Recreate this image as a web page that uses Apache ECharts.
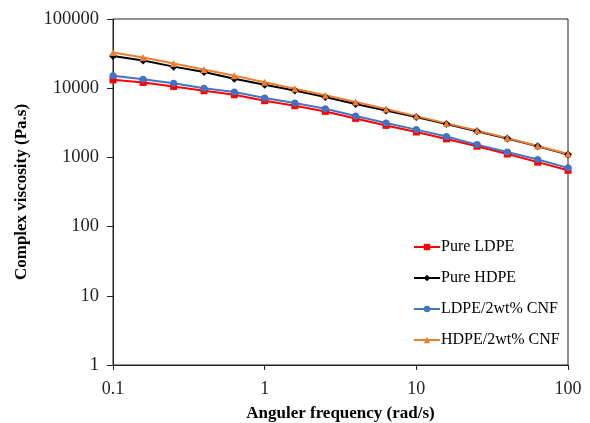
<!DOCTYPE html>
<html>
<head>
<meta charset="utf-8">
<script src="https://cdn.jsdelivr.net/npm/echarts@6/dist/echarts.min.js"></script>
<style>
  html, body { margin: 0; padding: 0; background: #fff; }
  #chart { width: 590px; height: 423px; }
</style>
</head>
<body>
<div id="chart"></div>
<script>
// angular frequency (rad/s), 5 points per decade
const freq = [0.1, 0.158, 0.251, 0.398, 0.631, 1, 1.58, 2.51, 3.98, 6.31, 10, 15.8, 25.1, 39.8, 63.1, 100]

// complex viscosity (Pa.s)
const pureLDPE = [13200, 12100, 10600, 9180, 8040, 6600, 5580, 4620, 3660, 2900, 2330, 1850, 1450, 1120, 855, 652]
const pureHDPE = [29300, 25100, 20500, 17100, 13700, 11200, 9270, 7450, 5900, 4770, 3830, 3040, 2380, 1870, 1450, 1100]
const ldpeCNF = [15100, 13500, 11800, 10000, 8790, 7200, 6100, 5050, 3960, 3140, 2520, 2010, 1530, 1200, 930, 706]
const hdpeCNF = [32700, 27800, 22800, 18600, 15100, 12200, 9800, 7900, 6300, 5000, 3950, 3100, 2450, 1900, 1460, 1120]

const seriesNames = ["Pure LDPE", "Pure HDPE", "LDPE/2wt% CNF", "HDPE/2wt% CNF"]
const seriesColors = ["#ff0000", "#000000", "#4472c4", "#ed7d31"]
const seriesSymbols = ["rect", "diamond", "circle", "triangle"]
const seriesData = [pureLDPE, pureHDPE, ldpeCNF, hdpeCNF]

const font = "Liberation Serif"

const chart = echarts.init(document.getElementById("chart"))

const series = seriesNames.map((name, i) => ({
  name,
  type: "line",
  data: freq.map((f, j) => [f, seriesData[i][j]]),
  symbol: seriesSymbols[i],
  symbolSize: seriesSymbols[i] === "diamond" ? 8 : 7,
  lineStyle: { color: seriesColors[i], width: 2 },
  itemStyle: { color: seriesColors[i] },
  animation: false
}))

chart.setOption({
  animation: false,
  textStyle: { fontFamily: font },
  grid: {
    left: 113,
    right: 22,
    top: 19,
    bottom: 58,
    outerBoundsMode: "none",
    show: true,
    borderColor: "#222",
    borderWidth: 1
  },
  legend: {
    orient: "vertical",
    left: 408,
    top: 234,
    itemWidth: 26,
    itemHeight: 8,
    itemGap: 15,
    data: seriesNames,
    textStyle: { fontFamily: font, fontSize: 16, color: "#000", padding: [0, 0, 0, -4] }
  },
  xAxis: {
    type: "log",
    logBase: 10,
    min: 0.1,
    max: 100,
    name: "Anguler frequency (rad/s)",
    nameLocation: "middle",
    nameGap: 40,
    nameTextStyle: { fontFamily: font, fontSize: 17, fontWeight: "bold", color: "#000" },
    axisLine: { lineStyle: { color: "#222", width: 1 } },
    axisTick: { show: true, length: 5, lineStyle: { color: "#222" } },
    minorTick: { show: false },
    splitLine: { show: false },
    axisLabel: {
      fontFamily: font,
      fontSize: 18,
      color: "#222",
      margin: 15,
      formatter: (v) => String(Number(v.toPrecision(6)))
    }
  },
  yAxis: {
    type: "log",
    logBase: 10,
    min: 1,
    max: 100000,
    name: "Complex viscosity (Pa.s)",
    nameLocation: "middle",
    nameGap: 83,
    nameTextStyle: { fontFamily: font, fontSize: 17, fontWeight: "bold", color: "#000" },
    axisLine: { show: true, lineStyle: { color: "#222", width: 1 } },
    axisTick: { show: true, length: 6, lineStyle: { color: "#222" } },
    minorTick: { show: false },
    splitLine: { show: false },
    axisLabel: {
      fontFamily: font,
      fontSize: 18.5,
      color: "#222",
      margin: 14,
      formatter: (v) => String(Math.round(v))
    }
  },
  series
})
</script>
</body>
</html>
